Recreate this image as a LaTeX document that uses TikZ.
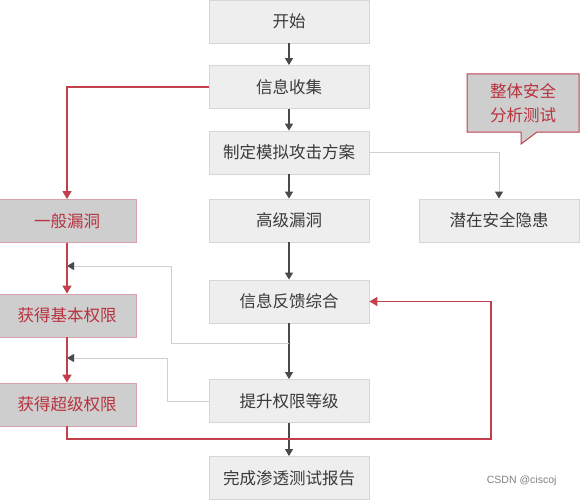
\documentclass[tikz,border=0pt]{standalone}
\usepackage{fontspec}
\setmainfont{Noto Sans CJK SC}
\newfontfamily\markfont{Liberation Sans}
\usepackage{tikz}
\usetikzlibrary{
    arrows.meta,
    positioning,
    calc
}
\usepackage{xcolor}
\definecolor{boxfill}{HTML}{EEEEEE}
\definecolor{boxline}{HTML}{D6D6D6}
\definecolor{boxtext}{HTML}{3A3A3A}
\definecolor{vulnfill}{HTML}{CECECE}
\definecolor{vulnline}{HTML}{D8A2AA}
\definecolor{vulntext}{HTML}{B8323E}
\definecolor{pathred}{HTML}{C2404C}
\definecolor{flowdark}{HTML}{4A4A4A}
\definecolor{backgray}{HTML}{D0D0D0}

\begin{document}
\begin{tikzpicture}[
            x=1pt,
            y=-1pt,
            >={Triangle[width=8pt,length=7pt]},
            stage/.style={
                draw=boxline,
                fill=boxfill,
                rectangle,
                align=center,
                minimum width=160pt,
                minimum height=43pt,
                inner sep=0pt,
                text=boxtext,
                font=\fontsize{16.5}{20}\selectfont,
                line width=0.8pt
            },
            vuln/.style={
                stage,
                draw=vulnline,
                fill=vulnfill,
                text=vulntext,
                minimum width=138pt
            },
            arrow/.style={
                ->,
                draw=flowdark,
                line width=1.2pt
            },
            redarrow/.style={
                -{Triangle[width=9pt,length=8pt]},
                draw=pathred,
                line width=1.4pt
            },
            backarrow/.style={
                -{Triangle[width=8pt,length=7pt,color=flowdark]},
                draw=backgray,
                line width=0.9pt
            }
            ]

            \useasboundingbox (0,0) rectangle (580,500);

            % main column
            \node[stage] (start) at (289,21.5) {开始};
            \node[stage] (collect) at (289,87) {信息收集};
            \node[stage] (plan) at (289,152.5) {制定模拟攻击方案};
            \node[stage] (highvuln) at (289,220.5) {高级漏洞};
            \node[stage] (feedback) at (289,301.5) {信息反馈综合};
            \node[stage] (escalate) at (289,401) {提升权限等级};
            \node[stage] (report) at (289,478) {完成渗透测试报告};

            % left column
            \node[vuln] (generalvuln) at (67,221) {一般漏洞};
            \node[vuln] (basicpriv) at (67,315.5) {获得基本权限};
            \node[vuln] (superpriv) at (67,404.5) {获得超级权限};

            % right side
            \node[stage] (hidden) at (499,220.5) {潜在安全隐患};

            \draw[draw=pathred, fill=vulnfill, line width=1pt]
            (467,74) -- (579,74) -- (579,132) -- (537,132)
            -- (521,144) -- (521,132) -- (467,132) -- cycle;
            \node[align=center, text=vulntext,
                font=\fontsize{16.5}{24}\selectfont] (callout) at (523,103)
            {整体安全\\分析测试};

            \node[text=gray, font=\markfont\fontsize{10.5}{12}\selectfont,
                anchor=east] (mark) at (560,481) {CSDN @ciscoj};

            \coordinate (loopcorner) at (491,439);
            \coordinate (tap) at (289,343);
            \coordinate (joinupper) at (67,266);
            \coordinate (joinlower) at (67,358);

            \draw[arrow] (start) -- (collect);
            \draw[arrow] (collect) -- (plan);
            \draw[arrow] (plan) -- (highvuln);
            \draw[arrow] (highvuln) -- (feedback);
            \draw[arrow] (feedback) -- (escalate);
            \draw[arrow] (escalate) -- (report);

            \draw[backarrow] (plan.east) -| (hidden.north);
            \draw[backarrow] (tap) -- ++(-118,0) |- (joinupper);
            \draw[backarrow] (escalate.west) -- ++(-41,0) |- (joinlower);

            \draw[redarrow] (collect.west) -| (generalvuln.north);
            \draw[redarrow] (generalvuln) -- (basicpriv);
            \draw[redarrow] (basicpriv) -- (superpriv);
            \draw[redarrow] (superpriv.south) |- (loopcorner) |- (feedback.east);

        \end{tikzpicture}
\end{document}
